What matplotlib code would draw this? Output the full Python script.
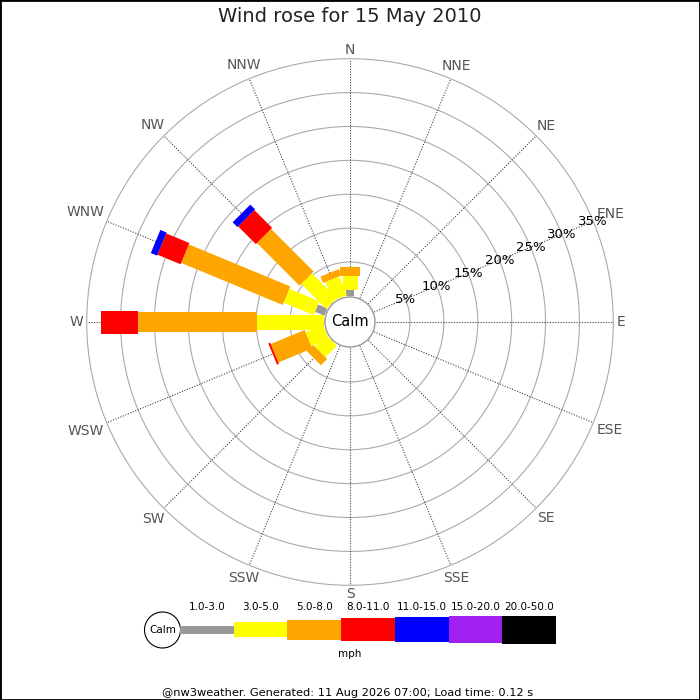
import numpy as np
import matplotlib
matplotlib.use("Agg")
import matplotlib.pyplot as plt
from matplotlib.patches import Polygon, Circle, Rectangle

# ---------------- data ----------------
directions = ['N', 'NNE', 'NE', 'ENE', 'E', 'ESE', 'SE', 'SSE',
              'S', 'SSW', 'SW', 'WSW', 'W', 'WNW', 'NW', 'NNW']
speed_bins = ['1.0-3.0', '3.0-5.0', '5.0-8.0', '8.0-11.0',
              '11.0-15.0', '15.0-20.0', '20.0-50.0']
bin_colors = ['#999999', '#ffff00', '#ffa500', '#ff0000',
              '#0000ff', '#a020f0', '#000000']
#                 N   NNE NE  ENE E   ESE SE  SSE S   SSW SW   WSW  W     WNW   NW   NNW
freq_1_3   = [0.9, 0, 0, 0, 0, 0, 0, 0, 0, 0, 0.0, 0.0, 0.0,  1.5,  0.0, 0.0]
freq_3_5   = [2.0, 0, 0, 0, 0, 0, 0, 0, 0, 0, 2.4, 2.8, 9.9,  4.8,  5.2, 3.0]
freq_5_8   = [1.3, 0, 0, 0, 0, 0, 0, 0, 0, 0, 1.3, 5.4, 17.6, 16.2, 8.9, 1.0]
freq_8_11  = [0.0, 0, 0, 0, 0, 0, 0, 0, 0, 0, 0.0, 0.3, 5.4,  3.7,  3.7, 0.0]
freq_11_15 = [0.0, 0, 0, 0, 0, 0, 0, 0, 0, 0, 0.0, 0.0, 0.0,  1.0,  1.0, 0.0]
freq_15_20 = [0.0] * 16
freq_20_50 = [0.0] * 16
ring_pcts = [5, 10, 15, 20, 25, 30, 35]
title = 'Wind rose for 15 May 2010'
footer = '@nw3weather. Generated: 11 Aug 2026 07:00; Load time: 0.12 s'

freqs = np.array([freq_1_3, freq_3_5, freq_5_8, freq_8_11,
                  freq_11_15, freq_15_20, freq_20_50])

# ---------------- layout ----------------
W = H = 700
cx, cy = 350.0, 322.0
r0 = 26.1          # radius of the calm circle (0 %)
k = 6.777          # pixels per percent
bar_w = [8, 15, 20, 23, 25, 27, 28]

def rad(p):
    return r0 + p * k

fig = plt.figure(figsize=(7, 7), dpi=100)
ax = fig.add_axes([0, 0, 1, 1])
ax.set_xlim(0, W)
ax.set_ylim(H, 0)
ax.set_aspect('equal')
ax.axis('off')

bearings = np.deg2rad(np.arange(16) * 22.5)

def pt(b, r):
    return cx + r * np.sin(b), cy - r * np.cos(b)

# range rings
for p in ring_pcts:
    ax.add_patch(Circle((cx, cy), rad(p), fill=False, ec='#aaaaaa', lw=0.8, zorder=1))

# spokes
for b in bearings:
    x1, y1 = pt(b, r0)
    x2, y2 = pt(b, rad(ring_pcts[-1]))
    ax.plot([x1, x2], [y1, y2], color='#444444', lw=0.8,
            linestyle=(0, (1, 1.4)), zorder=2)

# bars
for d, b in enumerate(bearings):
    u = np.array([np.sin(b), -np.cos(b)])
    v = np.array([np.cos(b), np.sin(b)])
    c = np.array([cx, cy])
    cum = 0.0
    for i in range(len(speed_bins)):
        f = freqs[i, d]
        if f <= 0:
            continue
        a, e = rad(cum), rad(cum + f)
        hw = bar_w[i] / 2
        poly = [c + u * a + v * hw, c + u * e + v * hw,
                c + u * e - v * hw, c + u * a - v * hw]
        ax.add_patch(Polygon(poly, closed=True, fc=bin_colors[i], ec='none', zorder=3))
        cum += f

# calm circle
ax.add_patch(Circle((cx, cy), 25, fc='white', ec='#999999', lw=1.0, zorder=4))
ax.text(cx, cy, 'Calm', ha='center', va='center', fontsize=10.5, color='black', zorder=5)

# percent labels along ENE
b_lab = np.deg2rad(67.5)
for p in ring_pcts:
    x, y = pt(b_lab, rad(p))
    ax.text(x, y, f'{p}%', ha='center', va='center', fontsize=9.5, color='black', zorder=5)

# compass labels
fig.canvas.draw()
renderer = fig.canvas.get_renderer()
for name, b in zip(directions, bearings):
    t = ax.text(0, 0, name, ha='center', va='center', fontsize=10, color='#555555')
    bb = t.get_window_extent(renderer)
    hw, hh = bb.width / 2, 5.0
    r = 267 + hw * abs(np.sin(b)) + hh * abs(np.cos(b))
    t.set_position(pt(b, r))

# title
ax.text(350, 17, title, ha='center', va='center', fontsize=14, color='#222222')

# legend
lx0, seg = 180.0, 53.7
ly = 629.5
ax.add_patch(Circle((162.5, 630), 18, fc='white', ec='black', lw=0.8))
ax.text(162.5, 630, 'Calm', ha='center', va='center', fontsize=7.5)
for i, (lab, col) in enumerate(zip(speed_bins, bin_colors)):
    x = lx0 + i * seg
    ax.add_patch(Rectangle((x, ly - bar_w[i] / 2), seg, bar_w[i], fc=col, ec='none'))
    ax.text(x + seg / 2, 607, lab, ha='center', va='center', fontsize=7.5)
ax.text(350, 654, 'mph', ha='center', va='center', fontsize=7.5)

# footer
ax.text(348, 692.5, footer, ha='center', va='center', fontsize=8.2)

# frame
fig.patches.append(Rectangle((0, 0), 1, 1, transform=fig.transFigure, fill=False,
                             ec='black', lw=2))

fig.savefig('out.png', dpi=100)
